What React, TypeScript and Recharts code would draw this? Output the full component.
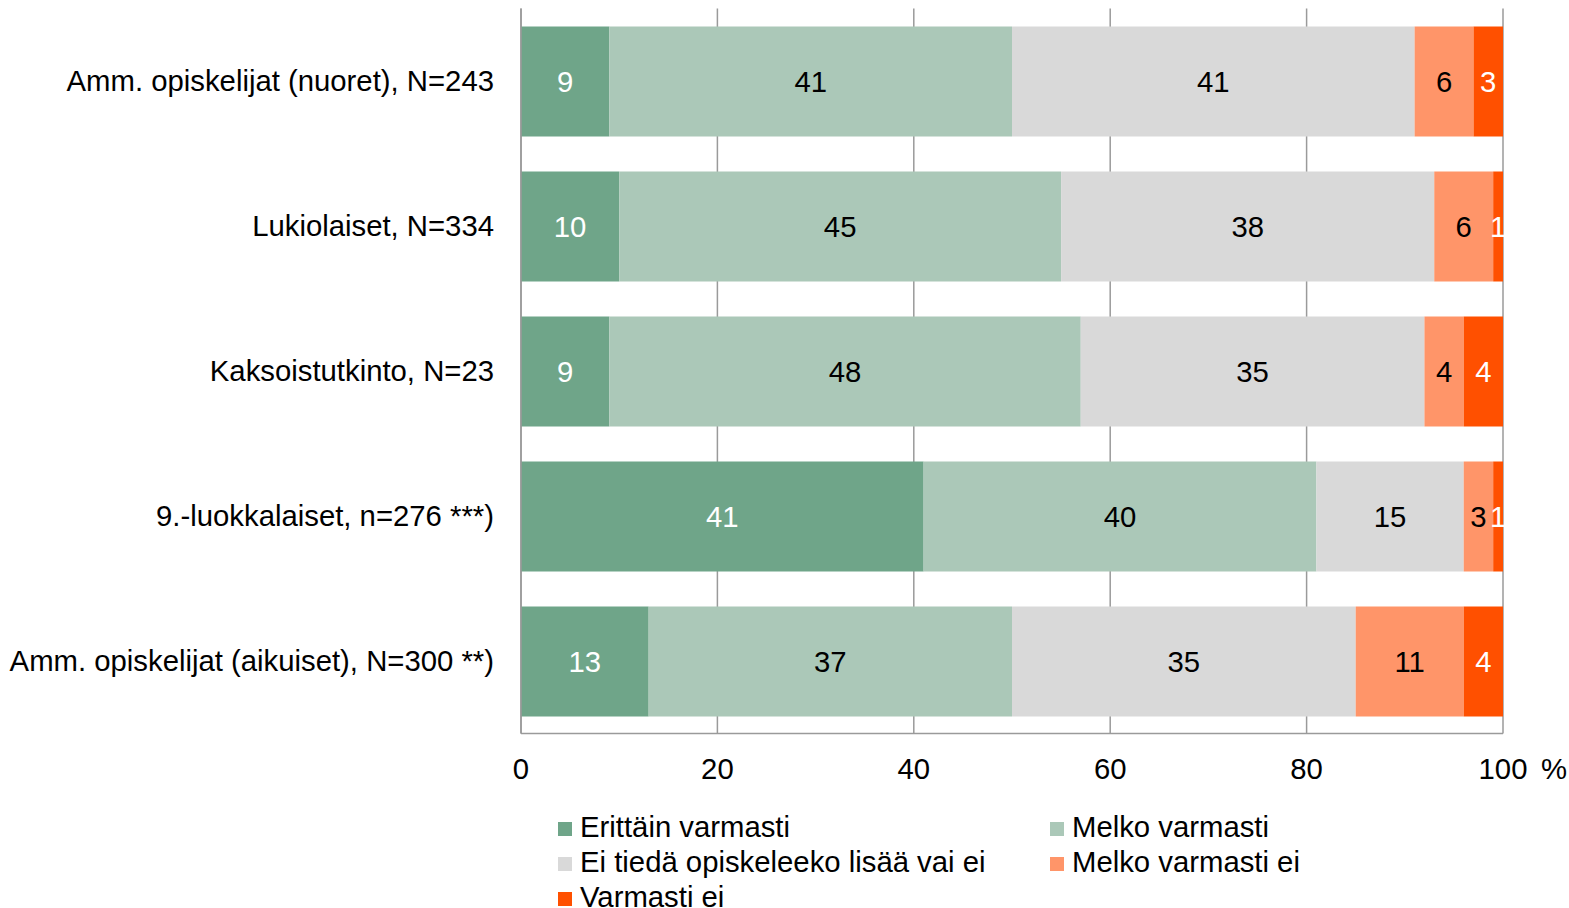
import React from "react";
import { BarChart, Bar, XAxis, YAxis, CartesianGrid, LabelList, Legend } from "recharts";

const categories = [
  "Amm. opiskelijat (nuoret), N=243",
  "Lukiolaiset, N=334",
  "Kaksoistutkinto, N=23",
  "9.-luokkalaiset, n=276 ***)",
  "Amm. opiskelijat (aikuiset), N=300 **)",
];

const erittainVarmasti = [9, 10, 9, 41, 13];
const melkoVarmasti = [41, 45, 48, 40, 37];
const eiTieda = [41, 38, 35, 15, 35];
const melkoVarmastiEi = [6, 6, 4, 3, 11];
const varmastiEi = [3, 1, 4, 1, 4];

const xTicks = [0, 20, 40, 60, 80, 100];

const series = [
  { key: "s1", name: "Erittäin varmasti", values: erittainVarmasti, color: "#6FA589", label: "#FFFFFF" },
  { key: "s2", name: "Melko varmasti", values: melkoVarmasti, color: "#ABC8B8", label: "#000000" },
  { key: "s3", name: "Ei tiedä opiskeleeko lisää vai ei", values: eiTieda, color: "#D9D9D9", label: "#000000" },
  { key: "s4", name: "Melko varmasti ei", values: melkoVarmastiEi, color: "#FF9569", label: "#000000" },
  { key: "s5", name: "Varmasti ei", values: varmastiEi, color: "#FF5000", label: "#FFFFFF" },
];

const data = categories.map((c, i) => {
  const row: any = { name: c };
  series.forEach((s) => (row[s.key] = s.values[i]));
  return row;
});

const FONT = "'Liberation Sans', Arial, Helvetica, sans-serif";
const FS = 29.3;

const XTick = (props: any) => {
  const { x, y, payload } = props;
  return (
    <g>
      <text x={x} y={y} dy="0.71em" textAnchor="middle" fontFamily={FONT} fontSize={FS} fill="#000">
        {payload.value}
      </text>
      {payload.value === 100 ? (
        <text x={x + 51} y={y} dy="0.71em" textAnchor="middle" fontFamily={FONT} fontSize={FS} fill="#000">
          %
        </text>
      ) : null}
    </g>
  );
};

const renderLegend = () => (
  <div style={{ position: "relative", width: 1569, height: 110, fontFamily: FONT, fontSize: FS }}>
    {series.map((s, i) => {
      const col = i % 2;
      const row = Math.floor(i / 2);
      return (
        <div
          key={s.key}
          style={{
            position: "absolute",
            left: 558 + col * 492,
            top: row * 35,
            display: "flex",
            alignItems: "center",
            whiteSpace: "nowrap",
            lineHeight: "34px",
            color: "#000",
          }}
        >
          <span style={{ display: "inline-block", width: 14, height: 14, background: s.color, marginRight: 8, marginTop: 4 }} />
          <span>{s.name}</span>
        </div>
      );
    })}
  </div>
);

export default function App() {
  return (
    <div style={{ position: "absolute", left: 0, top: 0, width: 1569, height: 908, background: "#fff" }}>
      <BarChart
        width={1569}
        height={908}
        data={data}
        layout="vertical"
        margin={{ top: 8.5, right: 66, left: 0, bottom: 114.5 }}
        barCategoryGap={35}
      >
        <CartesianGrid horizontal={false} vertical={true} stroke="#9A9A9A" strokeWidth={1.5} />
        <XAxis
          type="number"
          domain={[0, 100]}
          ticks={xTicks}
          interval={0}
          height={60}
          tickLine={false}
          tickSize={0}
          tickMargin={25}
          axisLine={{ stroke: "#9A9A9A", strokeWidth: 1.5 }}
          tick={<XTick />}
        />
        <YAxis
          type="category"
          dataKey="name"
          width={521}
          tickLine={false}
          tickSize={0}
          tickMargin={27}
          axisLine={{ stroke: "#9A9A9A", strokeWidth: 1.5 }}
          tick={{ fontFamily: FONT, fontSize: FS, fill: "#000" }}
          interval={0}
        />
        <Legend
          layout="horizontal"
          verticalAlign="middle"
          align="center"
          content={renderLegend}
          wrapperStyle={{ position: "absolute", left: 0, top: 810, width: 1569 }}
        />
        {series.map((s) => (
          <Bar key={s.key} dataKey={s.key} name={s.name} stackId="a" fill={s.color} barSize={110} isAnimationActive={false}>
            <LabelList dataKey={s.key} position="center" fill={s.label} fontFamily={FONT} fontSize={FS} />
          </Bar>
        ))}
      </BarChart>
    </div>
  );
}
